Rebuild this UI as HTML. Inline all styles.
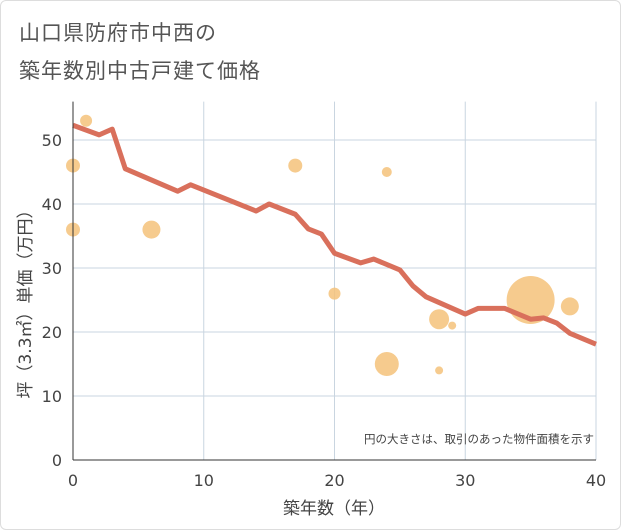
<!DOCTYPE html>
<html><head><meta charset="utf-8"><style>
body{margin:0;background:#fff;font-family:"Liberation Sans","Noto Sans CJK JP",sans-serif}
#wrap{position:relative;width:619px;height:528px;border:1px solid #ddd;border-radius:6px;background:#fff}
.title{position:absolute;left:18px;font-size:21px;color:#555;letter-spacing:1px}
svg text{font-family:"DejaVu Sans","Noto Sans CJK JP",sans-serif}
</style></head><body>
<div id="wrap">
<div class="title" style="top:16px">山口県防府市中西の</div>
<div class="title" style="top:54px">築年数別中古戸建て価格</div>
<svg id="svg" width="621" height="530" style="position:absolute;left:-1px;top:-1px"></svg>
</div>
<script>
const lineYears=[0,2,3,4,8,9,14,15,17,18,19,20,22,23,25,26,27,30,31,33,35,36,37,38,40];
const linePrices=[52.3,50.8,51.7,45.5,42,43,38.9,40,38.4,36.1,35.3,32.3,30.8,31.4,29.7,27.2,25.5,22.8,23.7,23.7,22,22.2,21.4,19.8,18.1];
const bubbleYears=[0,1,0,6,17,24,20,24,28,29,28,35,38];
const bubblePrices=[46,53,36,36,46,45,26,15,22,21,14,25,24];
const bubbleSizes=[7,6,7,9,7,5,6,12,10,4,4,24,9];
const xTicks=[0,10,20,30,40];
const yTicks=[0,10,20,30,40,50];
const X0=73,X1=596,Y0=460,Y1=140;
const sx=v=>X0+(X1-X0)*v/40, sy=v=>Y0-(Y0-Y1)*v/50;
const svg=document.getElementById('svg');const NS='http://www.w3.org/2000/svg';
function mk(t,a,p){const e=document.createElementNS(NS,t);for(const k in a)e.setAttribute(k,a[k]);(p||svg).appendChild(e);return e;}
const yTop=sy(56);
xTicks.forEach(v=>{const l=mk('line',{x1:sx(v),x2:sx(v),y1:yTop,y2:Y0,stroke:'#c9d5e0'});

const t=mk('text',{x:sx(v),y:486,'text-anchor':'middle','font-size':16,fill:'#444'});t.textContent=v;
});
yTicks.forEach(v=>{const l=mk('line',{x1:X0,x2:X1,y1:sy(v),y2:sy(v),stroke:'#c9d5e0'});

const t=mk('text',{x:62,y:sy(v)+6,'text-anchor':'end','font-size':16,fill:'#444'});t.textContent=v;
});
bubbleYears.forEach((v,i)=>{const c=mk('circle',{cx:sx(v),cy:sy(bubblePrices[i]),r:bubbleSizes[i],fill:'#f5c27a',opacity:0.85});
});
const p=mk('polyline',{points:lineYears.map((v,i)=>sx(v)+','+sy(linePrices[i])).join(' '),fill:'none',stroke:'#d9705c','stroke-width':5,'stroke-linejoin':'round'});

const a=mk('line',{x1:X0,x2:X0,y1:yTop,y2:Y0,stroke:'#333'});
const b=mk('line',{x1:X0,x2:X1,y1:Y0,y2:Y0,stroke:'#333'});
const n=mk('text',{x:594,y:443,'text-anchor':'end','font-size':11.5,fill:'#444'});n.textContent='円の大きさは、取引のあった物件面積を示す';

const xt=mk('text',{x:334,y:514,'text-anchor':'middle','font-size':17,fill:'#444'});xt.textContent='築年数（年）';

const yt=mk('text',{x:0,y:0,'text-anchor':'middle','font-size':17,fill:'#444',transform:'translate(31,300) rotate(-90)'});yt.textContent='坪（3.3㎡）単価（万円）';

</script>
</body></html>
